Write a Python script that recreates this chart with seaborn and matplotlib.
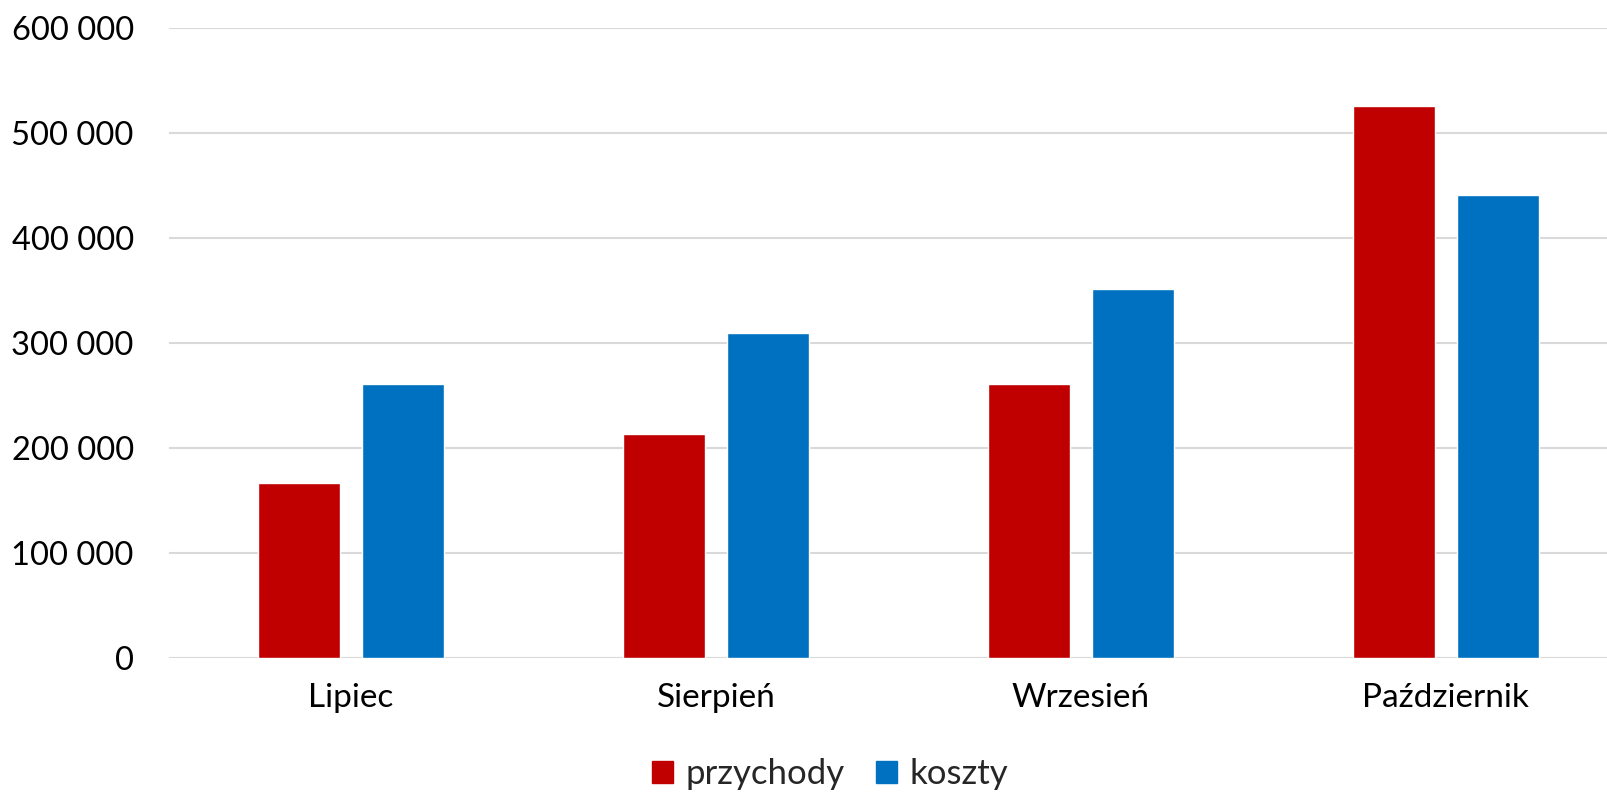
import pandas as pd
import matplotlib.pyplot as plt
import seaborn as sns
from matplotlib.ticker import FuncFormatter

months = ["Lipiec", "Sierpień", "Wrzesień", "Październik"]
przychody = [167000, 213000, 261000, 525000]
koszty = [261000, 309000, 351000, 441000]
series_names = ["przychody", "koszty"]
colors = {"przychody": "#C00000", "koszty": "#0070C0"}

df = pd.DataFrame({
    "miesiac": months * 2,
    "wartosc": przychody + koszty,
    "seria": [series_names[0]] * len(months) + [series_names[1]] * len(months),
})

sns.set_theme(style="white")
plt.rcParams["font.family"] = ["Lato", "DejaVu Sans"]

fig = plt.figure(figsize=(16.08, 7.95), dpi=100)
ax = fig.add_axes([0.1048, 0.1723, 0.8952, 0.7929])

sns.barplot(
    data=df, x="miesiac", y="wartosc", hue="seria",
    palette=colors, saturation=1, width=0.57, gap=0.21, ax=ax, legend=False,
)

ax.set_ylim(0, 600000)
ax.set_xlim(-0.5, 3.445)
ax.set_yticks(range(0, 600001, 100000))
ax.yaxis.set_major_formatter(FuncFormatter(lambda v, p: f"{int(v):,}".replace(",", " ")))
ax.grid(axis="y", color="#D9D9D9", linewidth=1.5)
ax.set_axisbelow(True)
for s in ax.spines.values():
    s.set_visible(False)
ax.set_xlabel("")
ax.set_ylabel("")
ax.tick_params(axis="y", labelsize=23.5, pad=25, length=0, colors="black")
ax.tick_params(axis="x", labelsize=24, pad=18, length=0, colors="black")

handles = [plt.Rectangle((0, 0), 1, 1, color=colors[n]) for n in series_names]
fig.legend(handles, series_names, loc="center", bbox_to_anchor=(0.516, 0.026),
           ncol=2, frameon=False, fontsize=25, handlelength=0.62, handleheight=0.62,
           handletextpad=0.35, columnspacing=0.9)

fig.savefig("out.png", dpi=100)
